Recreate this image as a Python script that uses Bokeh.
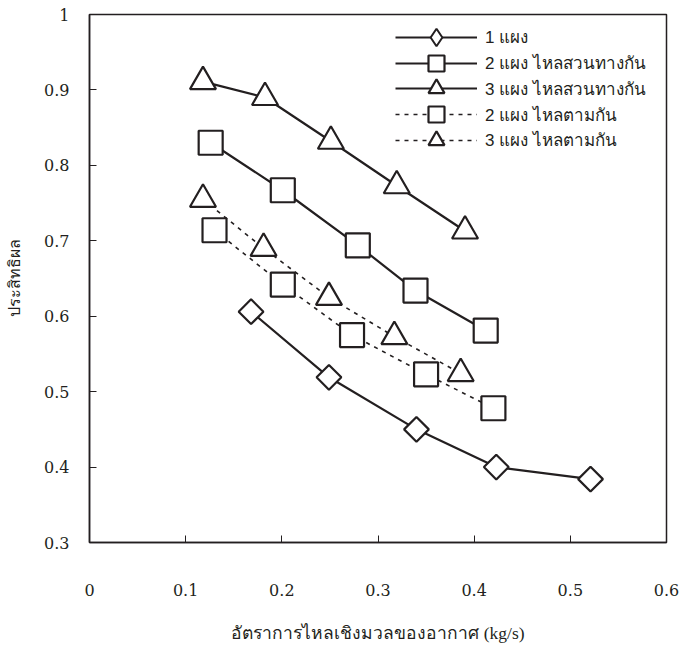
import numpy as np
from bokeh.plotting import figure
from bokeh.models import Range1d, FixedTicker, Legend, LegendItem
from bokeh.embed import file_html
from bokeh.resources import INLINE

# ---- data ----
x_ticks = [0.0, 0.1, 0.2, 0.3, 0.4, 0.5, 0.6]
x_tick_labels = ["0", "0.1", "0.2", "0.3", "0.4", "0.5", "0.6"]
y_ticks = [0.3, 0.4, 0.5, 0.6, 0.7, 0.8, 0.9, 1.0]
y_tick_labels = ["0.3", "0.4", "0.5", "0.6", "0.7", "0.8", "0.9", "1"]

names = ["1 แผง", "2 แผง ไหลสวนทางกัน", "3 แผง ไหลสวนทางกัน",
         "2 แผง ไหลตามกัน", "3 แผง ไหลตามกัน"]

one_x = [0.168, 0.249, 0.340, 0.423, 0.521]
one_y = [0.606, 0.519, 0.450, 0.400, 0.384]

two_counter_x = [0.126, 0.201, 0.279, 0.339, 0.412]
two_counter_y = [0.830, 0.767, 0.694, 0.634, 0.581]

three_counter_x = [0.118, 0.1825, 0.251, 0.3195, 0.3905]
three_counter_y = [0.911, 0.890, 0.832, 0.773, 0.713]

two_parallel_x = [0.130, 0.201, 0.273, 0.350, 0.420]
two_parallel_y = [0.714, 0.642, 0.575, 0.523, 0.478]

three_parallel_x = [0.118, 0.181, 0.249, 0.317, 0.386]
three_parallel_y = [0.755, 0.690, 0.625, 0.573, 0.524]

INK = "#231f20"

p = figure(width=682, height=646, output_backend="svg", toolbar_location=None,
           x_range=Range1d(0, 0.6), y_range=Range1d(0.3, 1.0),
           min_border_left=89, min_border_top=14, min_border_right=16,
           min_border_bottom=104)
p.background_fill_color = "white"
p.border_fill_color = "white"
p.outline_line_color = INK
p.outline_line_width = 1.5
p.xgrid.visible = False
p.ygrid.visible = False

for ax in (p.xaxis[0], p.yaxis[0]):
    ax.axis_line_color = INK
    ax.axis_line_width = 1.5
    ax.major_tick_in = 7
    ax.major_tick_out = 0
    ax.major_tick_line_color = INK
    ax.minor_tick_line_color = None
    ax.major_label_text_font = "DejaVu Serif"
    ax.major_label_text_font_size = "16px"
    ax.major_label_text_color = INK

p.xaxis.ticker = FixedTicker(ticks=x_ticks)
p.yaxis.ticker = FixedTicker(ticks=y_ticks)
p.xaxis.major_label_overrides = {t: l for t, l in zip(x_ticks, x_tick_labels)}
p.yaxis.major_label_overrides = {t: l for t, l in zip(y_ticks, y_tick_labels)}
p.xaxis.major_label_standoff = 41
p.yaxis.major_label_standoff = 20

p.xaxis.axis_label = "อัตราการไหลเชิงมวลของอากาศ (kg/s)"
p.xaxis.axis_label_text_font = "Liberation Serif"
p.xaxis.axis_label_text_font_style = "normal"
p.xaxis.axis_label_text_font_size = "17.5px"
p.xaxis.axis_label_text_color = INK
p.xaxis.axis_label_standoff = 24

p.yaxis.axis_label = "ประสิทธิผล"
p.yaxis.axis_label_text_font_style = "normal"
p.yaxis.axis_label_text_font_size = "16px"
p.yaxis.axis_label_text_color = INK
p.yaxis.axis_label_standoff = 18

series = [
    (one_x, one_y, "square", np.pi / 4, 17.5, None),
    (two_counter_x, two_counter_y, "square", 0.0, 24, None),
    (three_counter_x, three_counter_y, "triangle", 0.0, 26, None),
    (two_parallel_x, two_parallel_y, "square", 0.0, 24, "4 5"),
    (three_parallel_x, three_parallel_y, "triangle", 0.0, 26, "4 5"),
]

row_center = [36.7, 62.5, 88.3, 114.1, 139.9]   # legend row centres (px from top)
frame_bottom = 542

for i, ((xs, ys, mk, ang, sz, dash), name) in enumerate(zip(series, names)):
    if dash is None:
        ln = p.line(xs, ys, line_color=INK, line_width=2.2)
    else:
        ln = p.line(xs, ys, line_color=INK, line_width=1.6, line_dash=dash)
    sc = p.scatter(xs, ys, marker=mk, angle=ang, size=sz, fill_color="white",
                   line_color=INK, line_width=2.2)
    if i == 0:
        # a hidden diamond renderer so the legend swatch shows a diamond
        key = p.scatter(xs, ys, marker="diamond", size=sz, fill_color="white",
                        line_color=INK, line_width=2.0, visible=False)
        gh = 44
    else:
        key = sc
        gh = 40
    leg = Legend(items=[LegendItem(label=name, renderers=[ln, key])],
                 location=(306, frame_bottom - row_center[i] - gh / 2),
                 glyph_width=82, glyph_height=gh, label_height=25,
                 spacing=0, padding=0, margin=0, label_standoff=8,
                 border_line_alpha=0, background_fill_alpha=0,
                 inactive_fill_alpha=0,
                 label_text_font_size="17px", label_text_color=INK)
    p.add_layout(leg, "center")

open("out.html", "w").write(file_html(p, INLINE))
